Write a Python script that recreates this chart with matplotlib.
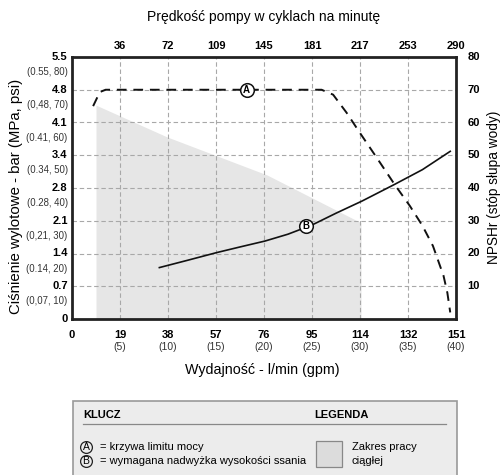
import matplotlib
matplotlib.use("Agg")
import matplotlib.pyplot as plt
from matplotlib.patches import Rectangle
import matplotlib.font_manager as fm

names = {f.name for f in fm.fontManager.ttflist}
FONT = 'Liberation Sans Narrow' if 'Liberation Sans Narrow' in names else 'Liberation Sans'
plt.rcParams['font.family'] = [FONT, 'DejaVu Sans']

# ---- data ----
gpm_ticks = [0, 5, 10, 15, 20, 25, 30, 35, 40]
lpm_labels = ['0', '19', '38', '57', '76', '95', '114', '132', '151']
cpm_labels = ['36', '72', '109', '145', '181', '217', '253', '290']
psi_ticks = [0, 10, 20, 30, 40, 50, 60, 70, 80]
bar_labels = ['0', '0.7', '1.4', '2.1', '2.8', '3.4', '4.1', '4.8', '5.5']
mpa_labels = ['', '(0,07, 10)', '(0.14, 20)', '(0,21, 30)', '(0.28, 40)',
              '(0.34, 50)', '(0.41, 60)', '(0,48, 70)', '(0.55, 80)']
npsh_ticks = [10, 20, 30, 40, 50, 60, 70, 80]

# curve A: power limit (psi)
a_gpm = [2.2, 2.9, 3.5, 26.0, 27.2, 28.6, 30.0, 31.8, 33.6, 35.2, 36.5, 37.6, 38.7, 39.1, 39.4]
a_psi = [65.0, 69.3, 70.0, 70.0, 68.5, 63.0, 56.8, 49.0, 41.1, 34.5, 28.5, 22.3, 13.2, 8.0, 2.0]
# curve B: NPSHr (ft)
b_gpm = [9.1, 12.0, 15.1, 17.5, 20.1, 22.5, 25.0, 27.5, 30.2, 33.6, 36.5, 39.4]
b_ft = [15.7, 17.9, 20.3, 22.0, 23.8, 25.9, 28.7, 32.3, 36.0, 41.1, 45.6, 51.2]
# continuous duty region
s_gpm = [2.5, 9.9, 20.3, 30.1]
s_psi = [65.3, 55.6, 44.0, 29.4]
marker_a = (18.2, 70)
marker_b = (24.4, 28.4)

fig = plt.figure(figsize=(5.01, 4.75), dpi=100)
ax = fig.add_axes([72/501, 1-319/475, (456-72)/501, (319-57)/475])
ax.set_xlim(0, 40)
ax.set_ylim(0, 80)

# shaded region
ax.fill_between(s_gpm, s_psi, 0, color='#e6e6e6', lw=0, zorder=1)

# grid
for g in gpm_ticks[1:-1]:
    ax.axvline(g, color='#a8a8a8', lw=0.8, ls=(0, (4, 2.5)), zorder=2)
for p in psi_ticks[1:-1]:
    ax.axhline(p, color='#a8a8a8', lw=0.8, ls=(0, (4, 2.5)), zorder=2)

# curves
ax.plot(a_gpm, a_psi, color='#111111', lw=1.4, ls=(0, (5, 3.5)), zorder=3)
ax.plot(b_gpm, b_ft, color='#111111', lw=1.2, zorder=3)

for (mx, my), lab in [(marker_a, 'A'), (marker_b, 'B')]:
    ax.plot(mx, my, 'o', ms=9.8, mfc='white', mec='#111111', mew=1.1, zorder=5)
    ax.text(mx, my, lab, ha='center', va='center', fontsize=7, fontweight='bold', zorder=6)

for s in ax.spines.values():
    s.set_linewidth(2)
    s.set_color('#222222')
    s.set_zorder(7)

ax.set_xticks([])
ax.set_yticks([])

# bottom labels
for g, lab in zip(gpm_ticks, lpm_labels):
    ax.text(g, -5.0, lab, ha='center', va='center', fontsize=8, fontweight='bold', clip_on=False)
    if g > 0:
        ax.text(g, -8.5, '(%d)' % g, ha='center', va='center', fontsize=7.5, color='#333333', clip_on=False)
# top labels
for g, lab in zip(gpm_ticks[1:], cpm_labels):
    ax.text(g, 83.5, lab, ha='center', va='center', fontsize=8, fontweight='bold', clip_on=False)
# left labels
for p, lab, sub in zip(psi_ticks, bar_labels, mpa_labels):
    ax.text(-0.45, p, lab, ha='right', va='center', fontsize=8, fontweight='bold', clip_on=False)
    if sub:
        ax.text(-0.45, p - 4.6, sub, ha='right', va='center', fontsize=6.9, color='#333333', clip_on=False)
# right labels
for p in npsh_ticks:
    ax.text(41.2, p, str(p), ha='left', va='center', fontsize=8, fontweight='bold', clip_on=False)

fig.text(264/501, 1-17/475, 'Prędkość pompy w cyklach na minutę', ha='center', va='center', fontsize=10)
fig.text(262/501, 1-370/475, 'Wydajność - l/min (gpm)', ha='center', va='center', fontsize=10.3)
fig.text(16/501, 1-196/475, 'Ciśnienie wylotowe - bar (MPa, psi)', ha='center', va='center', fontsize=10.8, rotation=90)
fig.text(494/501, 1-187/475, 'NPSHr (stóp słupa wody)', ha='center', va='center', fontsize=9.8, rotation=90)

# key box
W, H = 501, 475
def fx(x): return x / W
def fy(y): return 1 - y / H
fig.patches.append(Rectangle((fx(73), fy(480)), (457-73)/W, (480-401)/H, transform=fig.transFigure,
                             facecolor='#ececec', edgecolor='#999999', lw=1.2))
fig.text(fx(83), fy(415), 'KLUCZ', ha='left', va='center', fontsize=8, fontweight='bold')
fig.text(fx(314), fy(415), 'LEGENDA', ha='left', va='center', fontsize=8, fontweight='bold')
fig.lines.append(plt.Line2D([fx(83), fx(446)], [fy(424), fy(424)], transform=fig.transFigure, color='#888888', lw=0.9))
for yy, lab, txt in [(447, 'A', '= krzywa limitu mocy'), (461, 'B', '= wymagana nadwyżka wysokości ssania')]:
    fig.lines.append(plt.Line2D([fx(86)], [fy(yy)], transform=fig.transFigure, marker='o', ms=8.5,
                                mfc='none', mec='#222222', mew=0.9))
    fig.text(fx(86), fy(yy), lab, ha='center', va='center', fontsize=7.5)
    fig.text(fx(100), fy(yy), txt, ha='left', va='center', fontsize=8)
fig.patches.append(Rectangle((fx(316), fy(467)), 26/W, 26/H, transform=fig.transFigure,
                             facecolor='#dcdcdc', edgecolor='#888888', lw=0.9))
fig.text(fx(352), fy(447), 'Zakres pracy', ha='left', va='center', fontsize=8)
fig.text(fx(352), fy(461), 'ciągłej', ha='left', va='center', fontsize=8)

fig.savefig('out.png', dpi=100)
